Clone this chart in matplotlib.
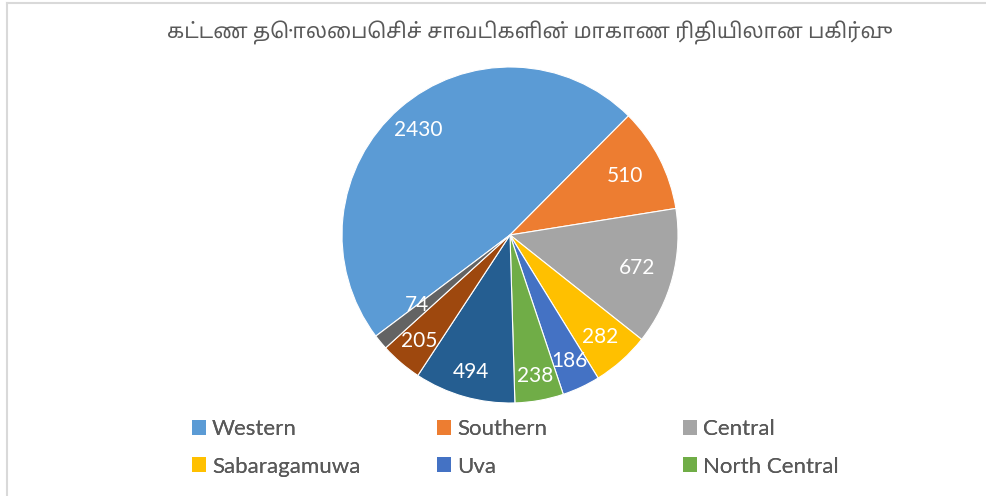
import numpy as np
import matplotlib
matplotlib.use('Agg')
import matplotlib.pyplot as plt
from matplotlib.lines import Line2D
from matplotlib.patches import Patch

plt.rcParams['font.family'] = ['Lato', 'DejaVu Sans']

# data
title = 'கட்டண தொலைபெசிச் சாவடிகளின் மாகாண ரிதியிலான பகிர்வு'
provinces = ['Western', 'Southern', 'Central', 'Sabaragamuwa', 'Uva',
             'North Central', 'North Western', 'Northern', 'Eastern']
counts = [2430, 510, 672, 282, 186, 238, 494, 205, 74]
colors = ['#5B9BD5', '#ED7D31', '#A5A5A5', '#FFC000', '#4472C4',
          '#70AD47', '#255E91', '#9E480E', '#636363']
n_legend = 6  # legend is cut off after 6 entries

# how far out each value label sits (fraction of radius)
label_r = [0.83, 0.77, 0.78, 0.81, 0.83, 0.85, 0.85, 0.83, 0.69]
start = 217

W, H = 986, 496
fig = plt.figure(figsize=(W / 100, H / 100), dpi=100)
fig.patch.set_facecolor('white')

# pie area: centre (510,235), radius 168 px
cx, cy, r = 510, 235, 168
ax = fig.add_axes([(cx - r) / W, (H - cy - r) / H, 2 * r / W, 2 * r / H])
wedges, _ = ax.pie(counts, colors=colors, startangle=start, counterclock=False,
                   wedgeprops=dict(edgecolor='white', linewidth=0.8))
for i, w in enumerate(wedges):
    ang = np.deg2rad((w.theta1 + w.theta2) / 2)
    if i == len(wedges) - 1:
        # small last slice: excel pushes its label onto the edge next to Western
        ang = np.deg2rad(start)
    ax.text(label_r[i] * np.cos(ang), label_r[i] * np.sin(ang), str(counts[i]),
            ha='center', va='center', color='white', fontsize=15)
ax.set_xlim(-1, 1)
ax.set_ylim(-1, 1)
ax.set_aspect('equal')
ax.axis('off')

fig.text(530 / W, 1 - 33 / H, title, ha='center', va='center', fontsize=15,
         color='#595959', family=['Noto Sans Tamil', 'DejaVu Sans'])

# legend: 3 columns at fixed x, 2 rows
col_x = [192, 437, 683]
for c in range(3):
    idx = list(range(c, n_legend, 3))
    handles = [Patch(facecolor=colors[i], edgecolor='none') for i in idx]
    leg = fig.legend(handles, [provinces[i] for i in idx], loc='center left',
                     bbox_to_anchor=(col_x[c] / W, 1 - 448 / H), frameon=False,
                     fontsize=16, handlelength=0.63, handleheight=0.63,
                     handletextpad=0.27, labelspacing=0.77, borderpad=0,
                     borderaxespad=0, labelcolor='#595959')
    fig.add_artist(leg)

# border lines (chart area edge)
fig.add_artist(Line2D([7 / W, 7 / W], [0, 1 - 3 / H], color='#D9D9D9', lw=1.5,
                      transform=fig.transFigure))
fig.add_artist(Line2D([7 / W, 1], [1 - 3 / H, 1 - 3 / H], color='#D9D9D9', lw=1.5,
                      transform=fig.transFigure))

fig.savefig('out.png', dpi=100)
